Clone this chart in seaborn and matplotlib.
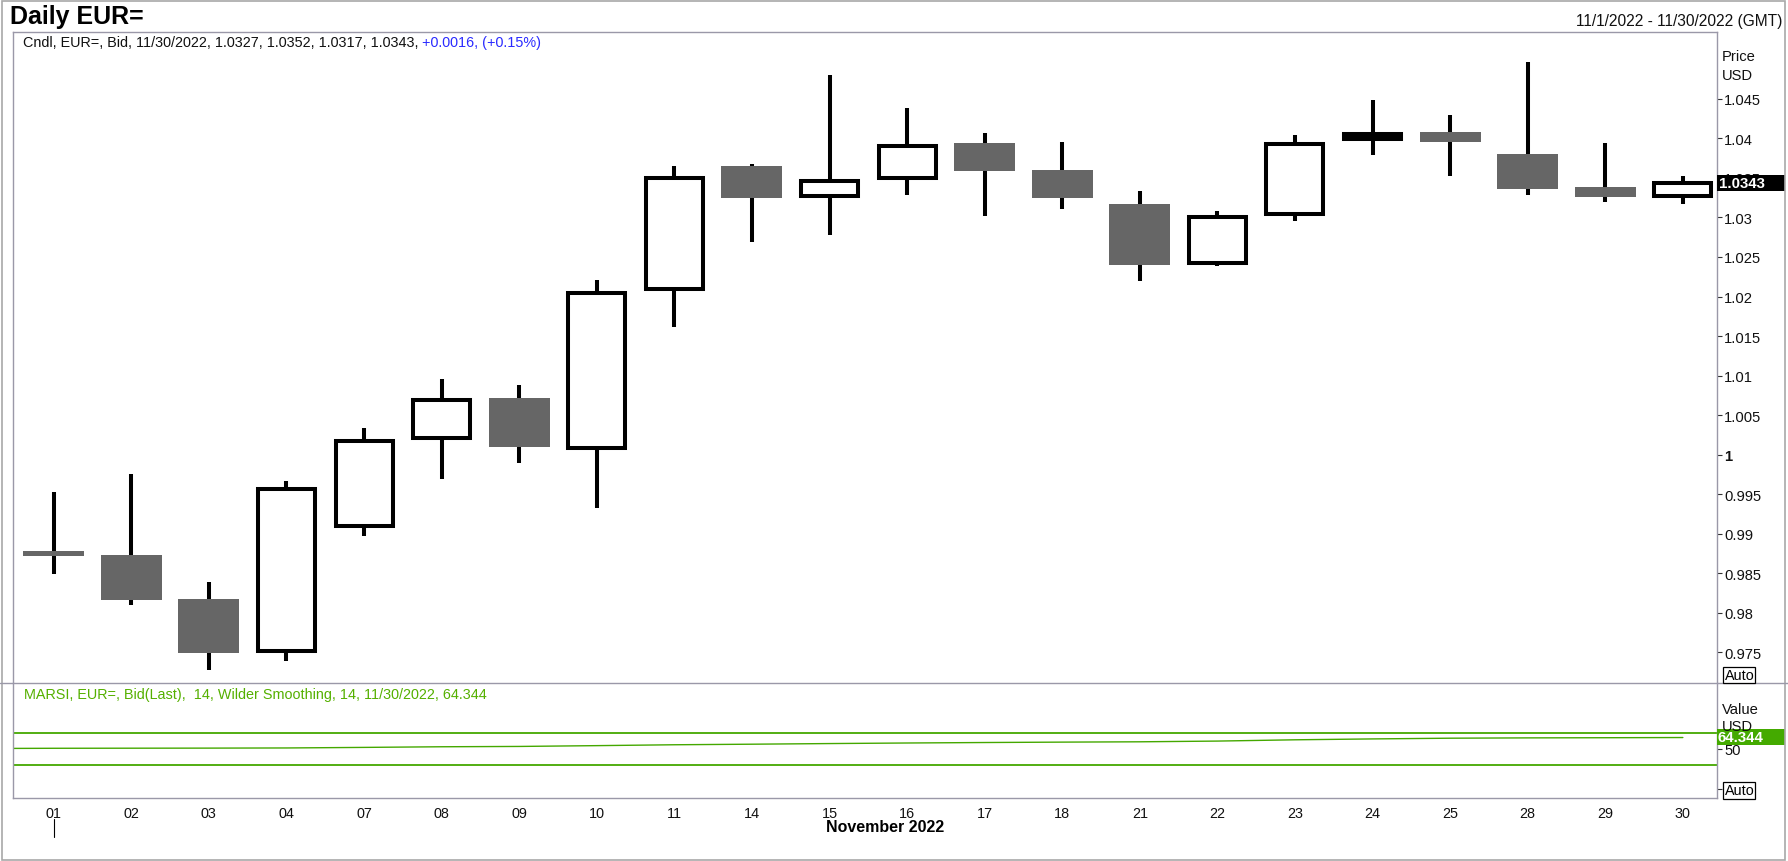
import numpy as np
import matplotlib
matplotlib.use("Agg")
import matplotlib.pyplot as plt
import matplotlib.transforms as mtrans
from matplotlib.patches import Rectangle
from matplotlib.lines import Line2D
import seaborn as sns

# ---------------- data ----------------
days = ["01", "02", "03", "04", "07", "08", "09", "10", "11", "14", "15",
        "16", "17", "18", "21", "22", "23", "24", "25", "28", "29", "30"]
opens = [0.9878, 0.9873, 0.9817, 0.9751, 0.9910, 1.0021, 1.0072, 1.0008,
         1.0209, 1.0365, 1.0327, 1.0350, 1.0394, 1.0360, 1.0317, 1.0243,
         1.0305, 1.0399, 1.0408, 1.0380, 1.0339, 1.0327]
highs = [0.9953, 0.9976, 0.9839, 0.9967, 1.0034, 1.0096, 1.0088, 1.0221,
         1.0365, 1.0367, 1.0480, 1.0439, 1.0407, 1.0395, 1.0334, 1.0308,
         1.0404, 1.0449, 1.0430, 1.0497, 1.0394, 1.0352]
lows = [0.9849, 0.9810, 0.9727, 0.9739, 0.9897, 0.9969, 0.9990, 0.9933,
        1.0162, 1.0269, 1.0278, 1.0329, 1.0302, 1.0311, 1.0220, 1.0238,
        1.0295, 1.0379, 1.0353, 1.0329, 1.0319, 1.0317]
closes = [0.9872, 0.9816, 0.9749, 0.9957, 1.0017, 1.0069, 1.0010, 1.0205,
          1.0350, 1.0325, 1.0346, 1.0390, 1.0359, 1.0324, 1.0240, 1.0301,
          1.0393, 1.0405, 1.0395, 1.0336, 1.0326, 1.0343]

# RSI series: first value is the previous session (31 Oct), then each day above
rsi_values = [50.6, 50.9, 51.0, 51.1, 51.3, 52.0, 52.8, 53.2, 54.2, 55.3, 56.0,
              56.8, 57.5, 58.1, 58.6, 59.0, 59.9, 61.5, 62.6, 63.5, 63.9, 64.1,
              64.344]
rsi_levels = [70, 30]

price_ticks = [0.975, 0.98, 0.985, 0.99, 0.995, 1.0, 1.005, 1.01, 1.015,
               1.02, 1.025, 1.03, 1.035, 1.04, 1.045]
price_tick_labels = ["0.975", "0.98", "0.985", "0.99", "0.995", "1", "1.005",
                     "1.01", "1.015", "1.02", "1.025", "1.03", "1.035",
                     "1.04", "1.045"]
rsi_ticks = [0, 50]
rsi_tick_labels = ["", "50"]

title = "Daily EUR="
date_range = "11/1/2022 - 11/30/2022 (GMT)"
price_header = "Cndl, EUR=, Bid, 11/30/2022, 1.0327, 1.0352, 1.0317, 1.0343, "
price_change = "+0.0016, (+0.15%)"
rsi_header = "MARSI, EUR=, Bid(Last),  14, Wilder Smoothing, 14, 11/30/2022, 64.344"
month_label = "November 2022"

# ---------------- style ----------------
sns.set_theme(style="white")
plt.rcParams["font.family"] = ["Liberation Sans", "DejaVu Sans"]

W, H = 1788, 862
fig = plt.figure(figsize=(W / 100, H / 100), dpi=100)
fig.patch.set_facecolor("white")


def fx(px):
    return px / W


def fy(py):
    return 1 - py / H


FRAME = "#9a98a8"
GREEN_LINE = "#44a800"
GREEN_TEXT = "#55b000"
GRAY = "#666666"
TXT = 10.4

L, R = 13, 1717
T1, B1, B2 = 33, 684, 799
ax = fig.add_axes([fx(L), fy(B1), (R - L) / W, (B1 - T1) / H])
ax2 = fig.add_axes([fx(L), fy(B2), (R - L) / W, (B2 - B1) / H])

o = np.array(opens)
c = np.array(closes)
hi = np.array(highs)
lo = np.array(lows)
x = np.arange(len(days))
up = c >= o
dn = ~up
thin = up & ((c - o) < 0.0007)     # hollow body too thin to show its inside
hollow = up & ~thin

# wicks
ax.vlines(x, lo, hi, color="black", linewidth=2.9, zorder=2, capstyle="butt")
# bearish bodies (filled gray)
ax.bar(x[dn], (o - c)[dn], bottom=c[dn], width=0.786, color=GRAY,
       linewidth=0, zorder=3)
# bullish bodies (hollow)
ax.bar(x[hollow], (c - o)[hollow], bottom=o[hollow], width=0.735,
       facecolor="white", edgecolor="black", linewidth=2.9, zorder=3)
# very small bullish bodies render as solid black
ax.bar(x[thin], (c - o)[thin], bottom=o[thin], width=0.735,
       facecolor="black", edgecolor="black", linewidth=2.9, zorder=3)

xlim = (-0.525, 21.44)
ax.set_xlim(*xlim)
ax.set_ylim(0.97111, 1.05346)
ax.set_xticks([])
ax.yaxis.tick_right()
ax.set_yticks(price_ticks)
ax.set_yticklabels(price_tick_labels)
ax.tick_params(axis="y", direction="out", length=3.6, width=0.8,
               color="#333333", labelsize=10.6, pad=1.5, labelcolor="#111111")
for lab in ax.get_yticklabels():
    if lab.get_text() == "1":
        lab.set_fontweight("bold")
for s in ["left", "top", "right"]:
    ax.spines[s].set_color(FRAME)
    ax.spines[s].set_linewidth(1.0)
ax.spines["bottom"].set_visible(False)
ax.set_facecolor("white")

# ---------------- RSI panel ----------------
rsi_x = np.arange(-1, len(days))
for lv in rsi_levels:
    ax2.axhline(lv, color=GREEN_LINE, linewidth=1.3, zorder=1)
sns.lineplot(x=rsi_x, y=rsi_values, ax=ax2, color=GREEN_LINE,
             linewidth=1.0, zorder=2)
ax2.set_xlim(*xlim)
ax2.set_ylim(-11.25, 132.5)
ax2.set_xticks(x)
ax2.set_xticklabels(days)
ax2.tick_params(axis="x", direction="out", length=3.5, width=0.8,
                color="#333333", labelsize=10.4, pad=2, labelcolor="#111111")
ax2.yaxis.tick_right()
ax2.set_yticks(rsi_ticks)
ax2.set_yticklabels(rsi_tick_labels)
ax2.tick_params(axis="y", direction="out", length=3.6, width=0.8,
                color="#333333", labelsize=10.6, pad=1.5, labelcolor="#111111")
for s in ["left", "bottom", "right"]:
    ax2.spines[s].set_color(FRAME)
    ax2.spines[s].set_linewidth(1.0)
ax2.spines["top"].set_visible(False)
ax2.set_xlabel("")
ax2.set_ylabel("")

# ---------------- figure decorations ----------------
fig.patches.append(Rectangle((fx(1.5), fy(860.5)), (W - 4.5) / W, 859 / H,
                             transform=fig.transFigure, fill=False,
                             edgecolor="#a8a8a8", linewidth=1.2))
fig.lines.append(Line2D([0, 1], [fy(B1), fy(B1)], transform=fig.transFigure,
                        color=FRAME, linewidth=1.0))

fig.text(fx(10), fy(17), title, fontsize=18, fontweight="bold",
         ha="left", va="center", color="black")
fig.text(fx(1782), fy(21.5), date_range, fontsize=11.2, ha="right",
         va="center", color="#111111")

t1 = fig.text(fx(23), fy(43), price_header, fontsize=TXT, ha="left",
              va="center", color="#111111")
ax.annotate(price_change, xy=(1, 0.5), xycoords=t1, ha="left", va="center",
            fontsize=TXT, color="#2a2aff")

fig.text(fx(24), fy(695), rsi_header, fontsize=TXT, ha="left", va="center",
         color=GREEN_TEXT)

for label, yy in (("Price", 57), ("USD", 76), ("Value", 710), ("USD", 727)):
    fig.text(fx(1722), fy(yy), label, fontsize=10.6, ha="left", va="center",
             color="#111111")

# last price marker
tr1 = mtrans.blended_transform_factory(ax.transAxes, ax.transData)
box_h = 16 * (1.05346 - 0.97111) / (B1 - T1)
box_w = 68 / (R - L)
ax.add_patch(Rectangle((1.0, closes[-1] - box_h / 2), box_w, box_h,
                       transform=tr1, facecolor="black", edgecolor="none",
                       clip_on=False, zorder=10))
ax.text(1.0012, closes[-1], f"{closes[-1]:.4f}", transform=tr1,
        fontsize=10.8, fontweight="bold", color="white", ha="left",
        va="center", clip_on=False, zorder=11)

# last RSI marker
tr2 = mtrans.blended_transform_factory(ax2.transAxes, ax2.transData)
rbox_h = 16 * (132.5 + 11.25) / (B2 - B1)
ax2.add_patch(Rectangle((1.0, rsi_values[-1] + 1.0 - rbox_h / 2), box_w,
                        rbox_h, transform=tr2, facecolor="#44aa00",
                        edgecolor="none", clip_on=False, zorder=10))
ax2.text(1.0003, rsi_values[-1] + 1.0, f"{rsi_values[-1]:.3f}",
         transform=tr2, fontsize=10.8, fontweight="bold", color="white",
         ha="left", va="center", clip_on=False, zorder=11)

# "Auto" boxes
for yy in (676, 791.5):
    fig.text(fx(1724.5), fy(yy), "Auto", fontsize=10.4, ha="left",
             va="center", color="black",
             bbox=dict(boxstyle="square,pad=0.08", facecolor="white",
                       edgecolor="black", linewidth=0.9))

# month label and marker
fig.text(fx(885), fy(828), month_label, fontsize=11.5, fontweight="bold",
         ha="center", va="center", color="black")
trm = mtrans.blended_transform_factory(ax2.transData, fig.transFigure)
fig.lines.append(Line2D([0, 0], [fy(820), fy(838)], transform=trm,
                        color="black", linewidth=0.8))

fig.savefig("out.png", dpi=100, facecolor="white")
